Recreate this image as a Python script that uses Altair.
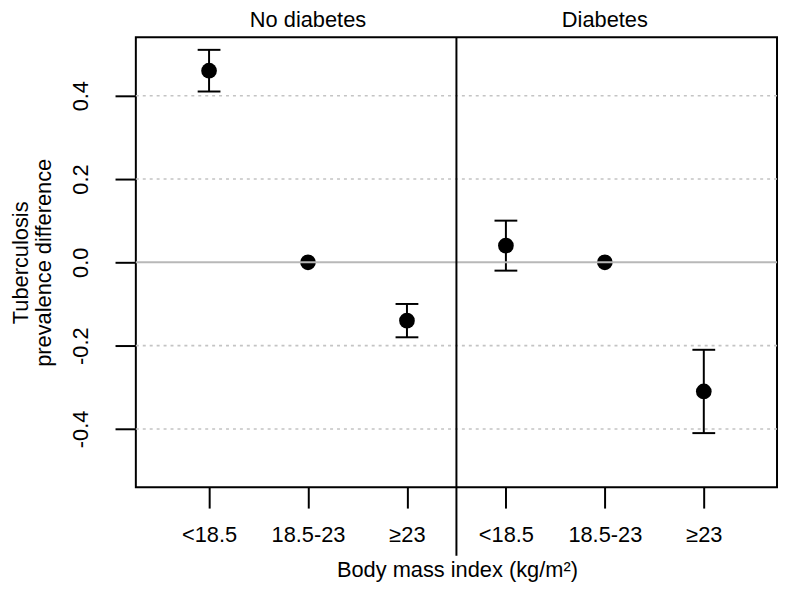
import json
import altair as alt
import pandas as pd

# ---- data ----
groups = ["No diabetes", "Diabetes"]
bmi_labels = ["<18.5", "18.5-23", "≥23"]
est_no_diab = [0.46, 0.00, -0.14]
lo_no_diab = [0.41, None, -0.18]
hi_no_diab = [0.51, None, -0.10]
est_diab = [0.04, 0.00, -0.31]
lo_diab = [-0.02, None, -0.41]
hi_diab = [0.10, None, -0.21]
y_ticks = [-0.4, -0.2, 0.0, 0.2, 0.4]
grid_dotted = [-0.4, -0.2, 0.2, 0.4]
zero_line = [0.0]

rows = []
for gi, (g, est, lo, hi) in enumerate([
    (groups[0], est_no_diab, lo_no_diab, hi_no_diab),
    (groups[1], est_diab, lo_diab, hi_diab),
]):
    for ci, cat in enumerate(bmi_labels):
        rows.append({"group": g, "bmi": cat, "pos": gi * 3 + ci + 1,
                     "est": est[ci], "lo": lo[ci], "hi": hi[ci]})
df = pd.DataFrame(rows)

panel_df = pd.DataFrame({"label": groups, "pos": [2, 5]})
divider_df = pd.DataFrame({"pos": [3.5]})

FONT = "Liberation Sans"
FS = 22

xscale = alt.Scale(domain=[0.26, 6.74], nice=False, zero=False)
yscale = alt.Scale(domain=[-0.54, 0.54], nice=False, zero=False)

label_expr = json.dumps(bmi_labels, ensure_ascii=False) + "[(datum.value - 1) % 3]"

x_axis = alt.Axis(
    values=[1, 2, 3, 4, 5, 6], labelExpr=label_expr, grid=False, domain=False,
    ticks=True, tickSize=21, tickWidth=2, tickColor="black",
    labelFont=FONT, labelFontSize=FS, labelColor="black",
    labelBaseline="alphabetic", labelPadding=34,
    title="Body mass index (kg/m²)", titleFont=FONT, titleFontSize=FS,
    titleFontWeight="normal", titleColor="black",
    titleX=324, titleY=90, titleBaseline="alphabetic", titleAlign="center",
    titleAnchor="middle",
)
y_axis = alt.Axis(
    values=y_ticks, labelExpr="replace(format(datum.value, '.1f'), '\u2212', '-')",
    grid=False, domain=False,
    ticks=True, tickSize=21, tickWidth=2, tickColor="black",
    labelFont=FONT, labelFontSize=FS, labelColor="black",
    labelAngle=270, labelAlign="center", labelBaseline="alphabetic",
    labelPadding=28,
    title=["Tuberculosis", "prevalence difference"], titleFont=FONT,
    titleFontSize=FS, titleFontWeight="normal", titleColor="black",
    titleAngle=270, titleAlign="center", titleBaseline="alphabetic",
    titleX=-109, titleY=227, titleLineHeight=23,
)

base = alt.Chart(df)

grid = alt.Chart(pd.DataFrame({"v": grid_dotted})).mark_rule(
    color="#c4c4c4", strokeWidth=1.6, strokeDash=[3, 4]
).encode(y=alt.Y("v:Q", scale=yscale, axis=y_axis))

zero = alt.Chart(pd.DataFrame({"v": zero_line})).mark_rule(
    color="#b8b8b8", strokeWidth=2
).encode(y=alt.Y("v:Q", scale=yscale))

bars = base.transform_filter("datum.lo != null").mark_rule(
    color="black", strokeWidth=2
).encode(
    x=alt.X("pos:Q", scale=xscale, axis=x_axis),
    y=alt.Y("lo:Q", scale=yscale),
    y2="hi:Q",
)
cap_lo = base.transform_filter("datum.lo != null").mark_tick(
    color="black", orient="horizontal", size=23, thickness=2, opacity=1
).encode(x=alt.X("pos:Q", scale=xscale), y=alt.Y("lo:Q", scale=yscale))
cap_hi = base.transform_filter("datum.hi != null").mark_tick(
    color="black", orient="horizontal", size=23, thickness=2, opacity=1
).encode(x=alt.X("pos:Q", scale=xscale), y=alt.Y("hi:Q", scale=yscale))

points = base.mark_circle(color="black", size=250, opacity=1).encode(
    x=alt.X("pos:Q", scale=xscale), y=alt.Y("est:Q", scale=yscale)
)

divider = alt.Chart(divider_df).mark_rule(color="black", strokeWidth=2).encode(
    x=alt.X("pos:Q", scale=xscale), y=alt.value(0), y2=alt.value(523)
)

panel_text = alt.Chart(panel_df).mark_text(
    font=FONT, fontSize=FS, color="black", baseline="alphabetic", align="center"
).encode(x=alt.X("pos:Q", scale=xscale), y=alt.value(-10), text="label:N")

chart = alt.layer(
    grid, bars, cap_lo, cap_hi, points, zero, divider, panel_text
).properties(
    width=647, height=454, autosize="none", background="white",
    padding={"left": 129, "top": 27, "right": 2, "bottom": 95},
).configure_view(stroke="black", strokeWidth=2)

chart.save("out.html", embed_options={"renderer": "svg", "actions": False})
